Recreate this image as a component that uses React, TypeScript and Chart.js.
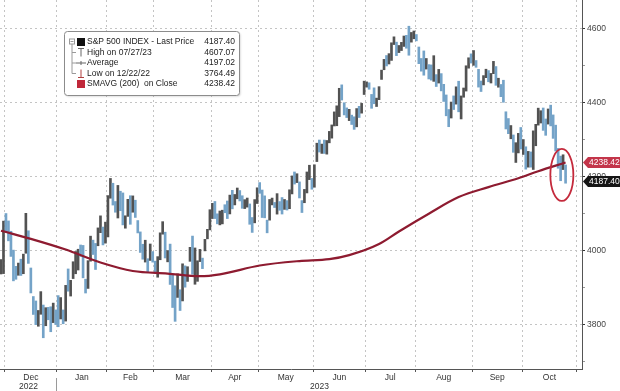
import { useEffect, useRef } from 'react';
import { Chart, registerables } from 'chart.js';

Chart.register(...registerables);

// ---------- data ----------
const monthNames = ['Dec', 'Jan', 'Feb', 'Mar', 'Apr', 'May', 'Jun', 'Jul', 'Aug', 'Sep', 'Oct'];
const monthTradingDays = [21, 20, 19, 23, 19, 22, 21, 20, 23, 20, 22];
const daysBeforeFirstMonth = 2; // Nov 29, Nov 30 2022
const yearLabels = ['2022', '2023'];
const yearMonthCounts = [1, 10];

// S&P 500 daily bars, Nov 29 2022 .. Oct 25 2023
const highs = [
  3976.0, 4080.0,
  4100.5, 4080.5, 4052.5, 4001.5, 3957.6, 3966.5, 3977.0, 3990.7, 4101.0, 4053.8, 3953.2, 3876.0, 3864.0, 3838.3, 3889.3, 3853.0, 3845.8, 3846.7, 3848.3, 3858.2, 3839.8,
  3878.5, 3873.2, 3839.7, 3906.2, 3950.6, 3919.8, 3970.1, 3997.8, 4003.9, 4015.4, 4014.2, 3922.9, 3973.0, 4039.3, 4028.5, 4019.6, 4061.6, 4094.2, 4063.9, 4077.2,
  4149.0, 4195.4, 4182.4, 4133.0, 4176.5, 4160.8, 4156.2, 4094.4, 4138.9, 4148.6, 4148.2, 4136.5, 4081.5, 4050.8, 4017.4, 4028.3, 3978.3, 4018.1, 3997.5,
  3971.7, 3983.9, 4048.3, 4078.5, 4050.0, 4000.4, 4017.8, 3934.1, 3905.1, 3937.3, 3894.3, 3964.5, 3958.9, 3956.6, 4009.1, 4039.5, 4007.4, 3972.7, 4003.5, 3979.9, 4030.6, 4057.8, 4110.8,
  4128.0, 4133.1, 4099.7, 4107.3, 4109.5, 4124.3, 4134.4, 4150.3, 4163.2, 4152.0, 4169.5, 4162.6, 4148.6, 4138.0, 4142.4, 4126.4, 4089.7, 4138.2, 4170.1,
  4184.2, 4164.1, 4148.3, 4082.6, 4138.5, 4142.3, 4130.4, 4154.3, 4132.8, 4143.7, 4138.5, 4135.5, 4164.7, 4202.2, 4212.9, 4208.1, 4186.0, 4135.5, 4165.7, 4212.9, 4231.1, 4195.4,
  4232.4, 4290.7, 4299.3, 4288.3, 4299.2, 4298.0, 4322.6, 4340.1, 4375.4, 4391.8, 4439.2, 4448.5, 4400.1, 4386.2, 4382.3, 4366.6, 4362.1, 4384.4, 4390.4, 4398.4, 4458.5,
  4456.5, 4454.1, 4422.6, 4440.4, 4412.6, 4443.6, 4488.3, 4517.4, 4527.8, 4532.9, 4562.3, 4578.4, 4564.0, 4555.0, 4563.4, 4580.6, 4582.5, 4607.1, 4590.2, 4594.2,
  4584.6, 4550.9, 4519.8, 4540.3, 4519.8, 4503.3, 4502.4, 4527.4, 4476.2, 4490.3, 4478.9, 4449.9, 4421.2, 4381.8, 4402.0, 4418.6, 4443.2, 4458.3, 4418.5, 4440.0, 4500.1, 4521.7, 4532.3,
  4541.3, 4514.3, 4490.4, 4458.9, 4473.5, 4490.8, 4487.1, 4479.4, 4512.0, 4498.0, 4466.4, 4449.5, 4461.0, 4375.7, 4357.4, 4338.5, 4313.0, 4292.1, 4317.3, 4333.2,
  4300.6, 4281.0, 4268.5, 4267.1, 4324.1, 4341.7, 4385.5, 4378.6, 4385.9, 4356.2, 4383.3, 4393.6, 4367.2, 4339.5, 4276.6, 4255.8, 4259.4, 4231.8,
];
const lows = [
  3937.0, 3938.0,
  4050.9, 4026.6, 3984.5, 3918.4, 3922.7, 3933.5, 3933.0, 3937.7, 3993.0, 3965.6, 3885.7, 3827.5, 3800.0, 3795.6, 3828.0, 3764.5, 3797.0, 3813.2, 3780.8, 3805.5, 3800.3,
  3794.3, 3815.3, 3802.4, 3809.6, 3890.4, 3877.3, 3924.6, 3937.6, 3947.7, 3984.6, 3926.6, 3885.5, 3897.9, 3971.6, 3989.7, 3949.1, 4013.3, 4048.7, 4015.6, 4020.4,
  4037.2, 4141.9, 4123.4, 4104.0, 4088.4, 4108.1, 4069.7, 4060.8, 4092.7, 4071.4, 4104.0, 4089.9, 4048.0, 3995.2, 3976.9, 3969.2, 3943.1, 3973.6, 3969.0,
  3939.1, 3928.2, 3975.5, 4044.6, 3980.3, 3969.8, 3908.7, 3846.3, 3808.9, 3873.6, 3838.2, 3864.1, 3901.3, 3916.9, 3971.2, 3936.2, 3909.2, 3917.1, 3970.5, 3951.5, 3999.5, 4032.1, 4056.2,
  4086.9, 4086.9, 4072.6, 4069.8, 4072.5, 4102.6, 4086.9, 4099.4, 4113.2, 4123.8, 4140.4, 4134.5, 4114.6, 4113.9, 4117.8, 4071.4, 4049.4, 4075.3, 4127.6,
  4155.2, 4089.7, 4088.9, 4048.3, 4082.6, 4123.8, 4116.7, 4098.9, 4109.3, 4099.1, 4111.7, 4109.9, 4113.6, 4153.5, 4180.2, 4184.2, 4142.6, 4103.2, 4129.7, 4156.2, 4192.2, 4166.2,
  4171.6, 4241.0, 4266.8, 4263.1, 4263.0, 4261.1, 4291.7, 4304.4, 4337.3, 4337.9, 4362.6, 4407.4, 4367.2, 4360.1, 4351.8, 4341.3, 4328.1, 4335.0, 4360.2, 4372.0, 4422.4,
  4442.3, 4436.6, 4385.1, 4397.4, 4389.9, 4408.5, 4463.2, 4489.4, 4499.6, 4504.9, 4514.6, 4557.5, 4527.6, 4535.8, 4541.3, 4552.4, 4547.6, 4528.6, 4564.0, 4573.1,
  4567.5, 4505.8, 4485.5, 4474.6, 4491.2, 4464.4, 4461.3, 4457.9, 4444.0, 4453.4, 4432.2, 4403.6, 4364.8, 4335.3, 4358.8, 4381.8, 4396.4, 4375.6, 4356.3, 4415.0, 4431.7, 4493.6, 4507.4,
  4501.3, 4496.0, 4442.4, 4430.5, 4448.4, 4467.9, 4456.8, 4453.5, 4478.7, 4447.2, 4442.1, 4416.6, 4401.4, 4329.2, 4316.5, 4302.7, 4266.0, 4238.6, 4264.4, 4274.9,
  4260.2, 4220.5, 4225.9, 4225.9, 4219.6, 4283.8, 4339.6, 4345.3, 4325.4, 4312.0, 4342.4, 4337.5, 4303.8, 4269.7, 4223.0, 4189.2, 4219.4, 4182.5,
];
const closes = [
  3957.6, 4080.1,
  4076.6, 4071.7, 3998.8, 3941.3, 3933.9, 3963.5, 3934.4, 3990.6, 4019.6, 3995.3, 3895.8, 3852.4, 3817.7, 3821.6, 3878.4, 3822.4, 3844.8, 3829.3, 3783.2, 3849.3, 3839.5,
  3824.1, 3853.0, 3808.1, 3895.1, 3892.1, 3919.3, 3969.6, 3983.2, 3999.1, 3991.0, 3928.9, 3898.9, 3972.6, 4019.8, 4017.0, 4016.2, 4060.4, 4070.6, 4017.8, 4076.6,
  4119.2, 4179.8, 4136.5, 4111.1, 4164.0, 4117.9, 4081.5, 4090.5, 4137.3, 4136.1, 4147.6, 4090.4, 4079.1, 3997.3, 3991.1, 4012.3, 3970.0, 3982.2, 3970.2,
  3951.4, 3981.4, 4045.6, 4048.4, 3986.4, 3992.0, 3918.3, 3861.6, 3855.8, 3919.3, 3891.9, 3960.3, 3916.6, 3951.6, 4002.9, 3937.0, 3948.7, 3971.0, 3977.5, 3971.3, 4027.8, 4050.8, 4109.3,
  4124.5, 4100.6, 4090.4, 4105.0, 4109.1, 4108.9, 4092.0, 4146.2, 4137.6, 4151.3, 4154.9, 4154.5, 4129.8, 4133.5, 4137.0, 4071.6, 4056.0, 4135.4, 4169.5,
  4167.9, 4119.6, 4090.8, 4061.2, 4136.3, 4138.1, 4119.2, 4137.6, 4130.6, 4124.1, 4136.3, 4109.9, 4158.8, 4198.1, 4192.0, 4192.6, 4145.6, 4115.2, 4151.3, 4205.5, 4205.5, 4179.8,
  4221.0, 4282.4, 4273.8, 4283.9, 4267.5, 4293.9, 4298.9, 4338.9, 4369.0, 4372.6, 4425.8, 4409.6, 4388.7, 4365.7, 4381.9, 4348.3, 4328.8, 4378.4, 4376.9, 4396.4, 4450.4,
  4455.6, 4446.8, 4411.6, 4399.0, 4409.5, 4439.3, 4472.2, 4510.0, 4505.4, 4522.8, 4555.0, 4565.7, 4534.9, 4536.3, 4554.6, 4567.5, 4566.8, 4537.4, 4582.2, 4589.0,
  4576.7, 4513.4, 4501.9, 4478.0, 4518.4, 4499.4, 4467.7, 4468.8, 4464.1, 4489.7, 4437.9, 4404.3, 4370.4, 4369.7, 4399.8, 4387.6, 4436.0, 4376.3, 4405.7, 4433.3, 4497.6, 4514.9, 4507.7,
  4515.8, 4496.8, 4465.5, 4451.1, 4457.5, 4487.5, 4461.9, 4467.4, 4505.1, 4450.3, 4453.5, 4444.0, 4402.2, 4330.0, 4320.1, 4337.4, 4273.5, 4274.5, 4299.7, 4288.1,
  4288.4, 4229.5, 4263.8, 4258.2, 4308.5, 4335.7, 4358.2, 4377.0, 4349.6, 4327.8, 4373.6, 4373.2, 4314.6, 4278.0, 4224.2, 4217.0, 4247.7, 4187.4,
];

// 200-day moving average (sampled at trading-day indices)
const smaIndex = [0, 12, 26, 40, 53, 67, 80, 88, 104, 120, 132, 140, 152, 160, 172, 184, 196, 208, 216, 227];
const smaValues = [4054, 4032, 4003, 3968, 3945, 3938, 3931, 3936, 3960, 3972, 3977, 3988, 4018, 4052, 4100, 4145, 4172, 4196, 4215, 4238.42];

const yTickValues = [3700, 3800, 3900, 4000, 4100, 4200, 4300, 4400, 4500, 4600];

const legendLabels = ['S&P 500 INDEX - Last Price', 'High on 07/27/23', 'Average', 'Low on 12/22/22', 'SMAVG (200)  on Close'];
const legendValues = ['4187.40', '4607.07', '4197.02', '3764.49', '4238.42'];
const lastPriceLabel = '4187.40';
const smaLabel = '4238.42';

// ---------- derived axis positions ----------
const boundaries: number[] = [];
{
  let b = daysBeforeFirstMonth - 0.5;
  boundaries.push(b);
  for (const d of monthTradingDays) {
    b += d;
    boundaries.push(b);
  }
}
const monthMids = monthTradingDays.map((_, i) => (boundaries[i] + boundaries[i + 1]) / 2);
const boundarySet = new Set(boundaries);
const xTickValues = [...boundaries, ...monthMids].sort((a, b) => a - b);

const FONT = 'Liberation Sans';
const UP = '#525252';
const DOWN = '#74a3c8';

const overlayPlugin = {
  id: 'overlay',
  afterDatasetsDraw(chart: any) {
    const { ctx, scales } = chart;
    const x = scales.x, y = scales.y;
    const last = closes.length - 1;
    const cx = x.getPixelForValue(last - 1.5);
    const cy = y.getPixelForValue((smaValues[smaValues.length - 1] + closes[last]) / 2 - 8);
    ctx.save();
    ctx.strokeStyle = '#c42a3c';
    ctx.lineWidth = 1.8;
    ctx.beginPath();
    ctx.ellipse(cx, cy, 11.5, 26, 0, 0, Math.PI * 2);
    ctx.stroke();
    ctx.restore();
  },
  afterDraw(chart: any) {
    const { ctx, scales, chartArea } = chart;
    const x = scales.x, y = scales.y;
    ctx.save();

    // ---- legend box ----
    const bx = 64.5, by = 31.5, bw = 175, bh = 64;
    ctx.shadowColor = 'rgba(0,0,0,0.18)';
    ctx.shadowBlur = 2;
    ctx.shadowOffsetX = 1;
    ctx.shadowOffsetY = 1;
    ctx.fillStyle = '#ffffff';
    ctx.beginPath();
    ctx.roundRect(bx, by, bw, bh, 3);
    ctx.fill();
    ctx.shadowColor = 'transparent';
    ctx.strokeStyle = '#8c8c8c';
    ctx.lineWidth = 1;
    ctx.stroke();

    const rowY = (i: number) => by + 10.5 + i * 10.5;
    // tree lines
    ctx.strokeStyle = '#9a9a9a';
    ctx.lineWidth = 1;
    ctx.strokeRect(69.5, rowY(0) - 3, 5, 5);
    ctx.beginPath();
    ctx.moveTo(70.5, rowY(0) - 0.5); ctx.lineTo(73.5, rowY(0) - 0.5);
    ctx.moveTo(72, rowY(0) + 2); ctx.lineTo(72, rowY(3));
    for (let i = 1; i <= 3; i++) { ctx.moveTo(72, rowY(i)); ctx.lineTo(76, rowY(i)); }
    ctx.stroke();
    // icons
    ctx.fillStyle = '#111';
    ctx.fillRect(77, rowY(0) - 4, 8, 8);
    ctx.strokeStyle = '#666';
    ctx.beginPath();
    ctx.moveTo(78, rowY(1) - 4); ctx.lineTo(84, rowY(1) - 4);
    ctx.moveTo(81, rowY(1) - 4); ctx.lineTo(81, rowY(1) + 4);
    ctx.moveTo(76, rowY(2)); ctx.lineTo(86, rowY(2));
    ctx.moveTo(81, rowY(2) - 2); ctx.lineTo(81, rowY(2) + 2);
    ctx.stroke();
    ctx.strokeStyle = '#b04040';
    ctx.beginPath();
    ctx.moveTo(81, rowY(3) - 4); ctx.lineTo(81, rowY(3) + 4);
    ctx.moveTo(78, rowY(3) + 4); ctx.lineTo(84, rowY(3) + 4);
    ctx.stroke();
    ctx.fillStyle = '#c0283a';
    ctx.fillRect(77, rowY(4) - 4, 8, 8);

    ctx.font = `8.5px "${FONT}"`;
    ctx.fillStyle = '#222';
    ctx.textBaseline = 'middle';
    legendLabels.forEach((t, i) => {
      ctx.textAlign = 'left';
      ctx.fillText(t, 87, rowY(i));
      ctx.textAlign = 'right';
      ctx.fillText(legendValues[i], 235, rowY(i));
    });

    // ---- price tags ----
    const tag = (value: number, text: string, color: string, dy: number) => {
      const yc = y.getPixelForValue(value) + dy;
      const x0 = chartArea.right + 1;
      ctx.fillStyle = color;
      ctx.beginPath();
      ctx.moveTo(x0, yc);
      ctx.lineTo(x0 + 5, yc - 5.5);
      ctx.lineTo(620, yc - 5.5);
      ctx.lineTo(620, yc + 5.5);
      ctx.lineTo(x0 + 5, yc + 5.5);
      ctx.closePath();
      ctx.fill();
      ctx.fillStyle = '#fff';
      ctx.textAlign = 'left';
      ctx.textBaseline = 'middle';
      ctx.font = `8.5px "${FONT}"`;
      ctx.fillText(text, x0 + 6, yc + 0.5);
    };
    tag(smaValues[smaValues.length - 1], smaLabel, '#c3354a', 0);
    tag(closes[closes.length - 1], lastPriceLabel, '#161616', 0);

    // ---- year labels ----
    ctx.fillStyle = '#333';
    ctx.font = `8.5px "${FONT}"`;
    ctx.textAlign = 'center';
    ctx.textBaseline = 'middle';
    let startPx = chartArea.left;
    let m = 0;
    yearLabels.forEach((lab, i) => {
      m += yearMonthCounts[i];
      const endPx = i === yearLabels.length - 1 ? chartArea.right : x.getPixelForValue(boundaries[m]);
      ctx.fillText(lab, (startPx + endPx) / 2, 387);
      if (i < yearLabels.length - 1) {
        ctx.strokeStyle = '#9a9a9a';
        ctx.beginPath();
        ctx.moveTo(Math.round(endPx) - 0.5, 378);
        ctx.lineTo(Math.round(endPx) - 0.5, 391);
        ctx.stroke();
      }
      startPx = endPx;
    });
    ctx.restore();
  },
};

export default function App() {
  const ref = useRef<HTMLCanvasElement>(null);
  useEffect(() => {
    document.body.style.margin = '0';
    const barData = highs.map((h, i) => ({ x: i, y: [lows[i], h] }));
    const barColors = closes.map((c, i) => (i === 0 || c >= closes[i - 1] ? UP : DOWN));
    const smaData = smaIndex.map((ix, i) => ({ x: ix, y: smaValues[i] }));

    const chart = new Chart(ref.current as HTMLCanvasElement, {
      type: 'bar',
      data: {
        datasets: [
          {
            type: 'line',
            data: smaData as any,
            borderColor: '#8e1b30',
            borderWidth: 2.2,
            pointRadius: 0,
            cubicInterpolationMode: 'monotone',
            order: 0,
          } as any,
          {
            type: 'bar',
            data: barData as any,
            backgroundColor: barColors,
            borderWidth: 0,
            barThickness: 2,
            order: 1,
          } as any,
        ],
      },
      options: {
        animation: false,
        responsive: false,
        maintainAspectRatio: false,
        devicePixelRatio: 1,
        layout: { padding: 0 },
        plugins: { legend: { display: false }, tooltip: { enabled: false } },
        scales: {
          x: {
            type: 'linear',
            min: -0.4,
            max: 233.6,
            offset: false,
            afterBuildTicks: (s: any) => { s.ticks = xTickValues.map((v) => ({ value: v })); },
            afterFit: (s: any) => { s.height = 22; s.paddingLeft = 0; s.paddingRight = 0; },
            ticks: {
              autoSkip: false,
              maxRotation: 0,
              padding: 1,
              color: '#333',
              font: { family: FONT, size: 8.5 },
              callback: (v: any) => {
                const i = monthMids.indexOf(Number(v));
                return i >= 0 ? monthNames[i] : '';
              },
            },
            grid: {
              offset: false,
              color: (c: any) => (c.tick && boundarySet.has(c.tick.value) ? '#c4c4c4' : 'rgba(0,0,0,0)'),
              tickColor: (c: any) => (c.tick && boundarySet.has(c.tick.value) ? '#555' : 'rgba(0,0,0,0)'),
              tickLength: 3,
              lineWidth: 1,
            },
            border: { display: true, color: '#555', width: 1, dash: [2, 3] },
          },
          y: {
            type: 'linear',
            position: 'right',
            min: 3680,
            max: 4678,
            afterBuildTicks: (s: any) => { s.ticks = yTickValues.map((v) => ({ value: v })); },
            afterFit: (s: any) => { s.width = 38; s.paddingTop = 0; s.paddingBottom = 0; },
            ticks: {
              padding: 2,
              color: '#444',
              font: { family: FONT, size: 8.5 },
              callback: (v: any) => (Number(v) % 200 === 0 ? String(v) : ''),
            },
            grid: {
              color: (c: any) => (c.tick && c.tick.value % 200 === 0 ? '#c4c4c4' : 'rgba(0,0,0,0)'),
              tickColor: (c: any) => (c.tick && c.tick.value % 200 === 0 ? '#333' : '#999'),
              tickLength: 3,
              lineWidth: 1,
            },
            border: { display: true, color: '#555', width: 1, dash: [2, 3] },
          },
        },
      } as any,
      plugins: [overlayPlugin],
    });
    return () => chart.destroy();
  }, []);

  return (
    <div style={{ position: 'absolute', left: 0, top: 0, width: 620, height: 391, background: '#fff' }}>
      <canvas ref={ref} width={620} height={391} style={{ display: 'block' }} />
    </div>
  );
}
